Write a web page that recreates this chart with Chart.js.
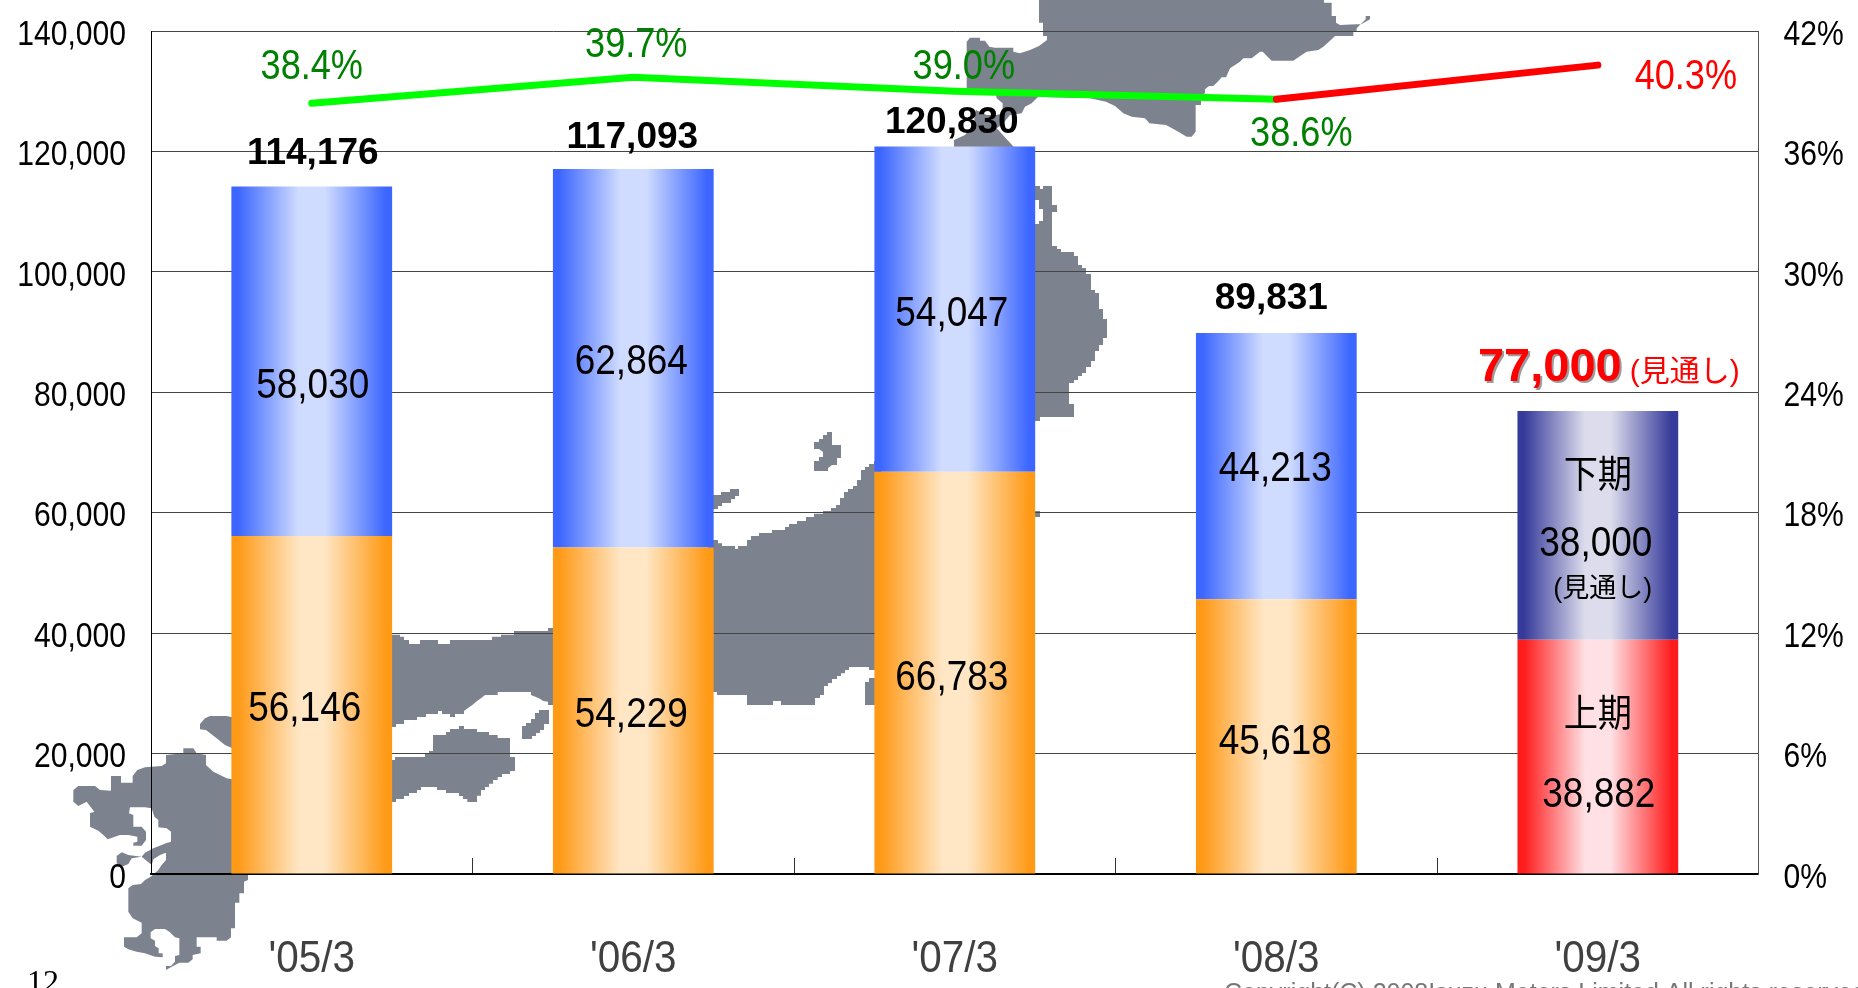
<!DOCTYPE html>
<html>
<head>
<meta charset="utf-8">
<title>Sales chart</title>
<script src="https://cdn.jsdelivr.net/npm/chart.js@4"></script>
<style>
  html, body { margin: 0; padding: 0; background: #fff; overflow: hidden; }
  canvas { display: block; }
</style>
</head>
<body>
<canvas id="salesChart" width="1858" height="988"></canvas>
<script>
const categories = ["'05/3", "'06/3", "'07/3", "'08/3", "'09/3"];
const firstHalf = [56146, 54229, 66783, 45618, 38882];
const secondHalf = [58030, 62864, 54047, 44213, 38000];
const totals = [114176, 117093, 120830, 89831, 77000];
const rates = [38.4, 39.7, 39.0, 38.6, 40.3];

const REGULAR = '"Liberation Sans", Arial, sans-serif';
const CJK = '"Liberation Sans", "Noto Sans CJK JP", sans-serif';

// hand nudges for the value labels, [dx, dy] from the anchor
const firstNudge = [[-7, 4], [-2, 4], [-3, 5], [-1, 5], [1, 38]];
const secondNudge = [[1, 25], [-2, 4], [-3, 5], [-1, 3], [-2, 19]];
const totalY = [154, 138, 123, 299, 368];
const totalDx = [1, -1, -3, -5, -48];
const rateNudge = [[0, -36], [3, -32], [9, -24], [25, 35], [88, 12]];

// no narrow Arial on this box, so text gets squeezed by font size
const squeezes = { 44: 0.92, 38: 0.9, 30: 1, 27: 1, 25: 1, 32: 1 };
const drops = { 35: 4 }; // axis numbers sit a little low in the original

const canvas = document.getElementById("salesChart");
const rawCtx = canvas.getContext("2d");
const plainFill = rawCtx.fillText.bind(rawCtx);
rawCtx.fillText = (str, x, y) => {
  const font = rawCtx.font;
  const size = parseInt(font.match(/(\d+)px/)[1], 10);
  const sx = font.includes("bold") ? 1 : squeezes[size] || 0.86;
  rawCtx.save();
  rawCtx.translate(x, y + (drops[size] || 0));
  rawCtx.scale(sx, 1);
  plainFill(str, 0, 0);
  rawCtx.restore();
};

// backdrop map of Japan: [originX, originY, x,y, x,y ...] at 3x
const mapOutlines = [
  // Kyushu
  [60, 700, 370,145, 400,145, 410,160, 438,165, 438,195, 460,215, 500,235, 530,240, 530,522, 564,522, 564,540, 552,545, 552,580, 538,580, 538,608, 525,608, 525,685, 513,685, 513,712, 500,722, 470,722, 470,712, 410,712, 410,740, 422,740, 422,760, 398,765, 398,778, 385,788, 358,788, 335,800, 318,810, 318,798, 333,798, 345,785, 345,768, 358,765, 358,715, 345,712, 330,697, 315,687, 285,687, 272,697, 272,715, 285,722, 285,738, 296,745, 296,760, 308,760, 308,772, 285,770, 255,760, 230,755, 205,748, 192,740, 192,712, 230,712, 245,700, 245,668, 218,655, 205,635, 205,565, 218,555, 243,552, 255,540, 272,530, 282,522, 295,510, 305,495, 318,480, 318,458, 300,465, 280,478, 275,495, 245,470, 215,475, 205,492, 185,500, 170,490, 170,468, 185,457, 205,465, 245,470, 255,458, 280,445, 318,430, 333,425, 333,395, 320,385, 295,382, 295,360, 283,350, 275,325, 255,322, 210,322, 207,340, 220,345, 220,380, 245,380, 258,395, 258,420, 245,437, 220,437, 220,428, 232,425, 232,410, 205,405, 180,405, 143,418, 130,405, 115,392, 90,380, 90,340, 103,335, 80,305, 55,318, 40,305, 40,270, 55,258, 105,258, 120,270, 153,272, 153,228, 183,228, 183,248, 218,248, 218,228, 232,210, 255,202, 305,198, 318,190, 318,165, 370,160],
  // western tip of Honshu
  [60, 700, 420,72, 435,55, 450,48, 500,48, 530,55, 530,150, 495,135, 470,115, 438,90, 420,88],
  // Honshu between the first two bars
  [385, 620, 3,44, 45,44, 45,50, 57,50, 57,60, 72,60, 72,72, 105,72, 105,60, 159,60, 159,72, 195,72, 195,60, 321,60, 321,50, 348,50, 348,44, 387,44, 387,33, 489,33, 489,24, 519,24, 519,255, 489,255, 489,245, 475,243, 462,235, 438,225, 438,216, 338,216, 338,225, 300,225, 288,235, 276,243, 262,255, 248,265, 237,273, 237,282, 210,282, 210,291, 195,291, 195,282, 171,282, 171,273, 159,273, 159,282, 123,282, 123,291, 96,291, 96,300, 57,300, 57,312, 33,312, 33,321, 3,321],
  // Shikoku
  [385, 620, 3,420, 30,420, 30,411, 120,411, 120,402, 132,402, 132,393, 144,393, 144,345, 183,345, 183,336, 195,336, 195,327, 222,327, 222,318, 237,318, 237,327, 276,327, 276,336, 312,336, 312,345, 338,345, 338,354, 375,354, 375,411, 390,411, 390,453, 375,453, 375,462, 351,462, 351,471, 338,471, 338,480, 324,480, 324,491, 312,491, 312,501, 300,501, 300,510, 288,510, 288,527, 276,527, 276,546, 247,546, 247,537, 234,537, 234,528, 222,528, 222,519, 183,519, 183,510, 156,510, 156,501, 108,501, 108,510, 96,510, 96,519, 72,519, 72,528, 57,528, 57,537, 33,537, 33,546, 3,546],
  // Awaji
  [385, 620, 411,318, 423,318, 423,309, 438,309, 438,297, 450,297, 450,279, 462,279, 462,270, 492,270, 492,312, 477,312, 477,330, 465,330, 465,339, 453,339, 453,348, 441,348, 441,357, 411,357],
  // Honshu between bars two and three
  [700, 410, 24,390, 54,390, 54,400, 66,400, 66,408, 105,408, 105,417, 114,417, 114,408, 141,408, 141,390, 153,390, 153,378, 177,378, 177,369, 216,369, 216,360, 255,360, 255,351, 267,351, 267,342, 291,342, 291,333, 318,333, 318,321, 342,321, 342,311, 369,311, 369,303, 393,303, 393,294, 408,294, 408,285, 420,285, 420,264, 432,264, 432,246, 444,246, 444,237, 459,237, 459,228, 471,228, 471,210, 483,210, 483,180, 495,180, 495,171, 507,171, 507,162, 522,162, 522,153, 543,153, 543,780, 507,780, 507,771, 447,771, 447,780, 435,780, 435,790, 423,790, 423,798, 411,798, 411,807, 396,807, 396,819, 384,819, 384,828, 372,828, 372,855, 360,855, 360,864, 345,864, 345,885, 243,885, 243,873, 219,873, 219,885, 141,885, 141,855, 51,855, 51,846, 24,846],
  // Izu
  [700, 410, 495,885, 543,885, 543,804, 507,804, 507,816, 495,816],
  // Sado
  [700, 410, 342,96, 357,96, 357,87, 369,87, 369,75, 381,75, 381,66, 396,66, 396,105, 423,105, 423,144, 411,144, 411,165, 396,165, 384,174, 384,183, 342,183, 342,153, 357,153, 357,141, 369,141, 369,126, 357,117, 342,117],
  // Noto
  [700, 410, 24,255, 63,255, 63,246, 90,246, 90,237, 117,237, 117,258, 105,258, 105,267, 93,267, 93,279, 66,279, 66,288, 54,288, 54,297, 24,297],
  // Tohoku right of the third bar
  [1020, 170, 27,48, 60,48, 60,57, 69,57, 69,48, 96,48, 96,105, 111,105, 111,126, 96,126, 96,228, 111,228, 111,237, 123,237, 123,246, 162,246, 162,258, 174,258, 174,285, 186,285, 186,294, 198,294, 198,312, 213,312, 213,360, 225,360, 225,369, 237,369, 237,417, 249,417, 249,447, 261,447, 261,504, 249,504, 249,525, 237,525, 237,543, 225,543, 225,573, 213,573, 213,591, 198,591, 198,609, 186,609, 186,618, 174,618, 174,630, 162,630, 162,639, 147,639, 147,702, 162,702, 162,741, 60,741, 60,753, 27,753, 27,162, 57,162, 57,153, 69,153, 69,117, 57,117, 57,90, 27,90],
  // northern Tohoku above the third bar
  [930, 0, 72,445, 72,420, 105,405, 130,375, 138,330, 170,345, 200,345, 218,340, 218,310, 200,295, 198,285, 330,285, 305,310, 285,320, 275,340, 240,345, 215,375, 200,385, 255,445],
  // Hokkaido
  [1020, 0, 57,0, 57,68, 69,68, 69,108, 81,108, 81,120, 57,138, 30,150, 0,160, -20,155, -20,143, -75,143, -92,140, -105,122, -120,122, -120,113, -150,113, -160,125, -160,272, 85,292, 210,295, 258,305, 285,318, 310,340, 335,350, 375,355, 388,370, 438,375, 475,395, 500,410, 515,410, 527,395, 527,315, 543,315, 543,285, 555,280, 555,268, 567,258, 580,258, 593,245, 605,232, 618,232, 630,205, 645,195, 660,185, 670,175, 695,175, 720,155, 728,155, 755,182, 820,182, 845,165, 860,155, 895,150, 910,140, 935,118, 945,108, 1000,108, 1000,95, 1010,95, 1010,85, 1025,70, 1037,58, 1037,48, 1050,48, 1050,58, 1025,72, 960,75, 948,68, 948,48, 935,48, 935,8, 912,8, 912,0],
  // stray pixel beside the third bar
  [1030, 508, 0,9, 30,9, 30,27, 0,27]
];

const mapBackdrop = {
  id: "mapBackdrop",
  beforeDraw(chart) {
    const ctx = chart.ctx;
    ctx.save();
    ctx.fillStyle = "#7c828e";
    mapOutlines.forEach((o) => {
      ctx.beginPath();
      for (let i = 2; i < o.length; i += 2) {
        ctx.lineTo(o[0] + o[i] / 3, o[1] + o[i + 1] / 3);
      }
      ctx.closePath();
      ctx.fill();
    });
    ctx.restore();
  },
};

function text(ctx, str, x, y, font, color) {
  ctx.font = font;
  ctx.fillStyle = color;
  ctx.fillText(str, x, y);
}

const valueLabels = {
  id: "valueLabels",
  afterDraw(chart) {
    const ctx = chart.ctx;
    const xs = chart.scales.x;
    const ys = chart.scales.y;
    const yr = chart.scales.y1;
    ctx.save();
    ctx.textAlign = "center";
    ctx.textBaseline = "middle";

    categories.forEach((c, i) => {
      const x = xs.getPixelForValue(i);
      const low = ys.getPixelForValue(firstHalf[i]);
      const high = ys.getPixelForValue(firstHalf[i] + secondHalf[i]);
      const zero = ys.getPixelForValue(0);
      const valueFont = '43px ' + REGULAR;

      text(ctx, firstHalf[i].toLocaleString("en-US"), x + firstNudge[i][0], (zero + low) / 2 + firstNudge[i][1], valueFont, "#000");
      text(ctx, secondHalf[i].toLocaleString("en-US"), x + secondNudge[i][0], (low + high) / 2 + secondNudge[i][1], valueFont, "#000");

      const forecast = i === categories.length - 1;
      if (forecast) {
        ctx.save();
        ctx.shadowColor = "rgba(90,90,90,0.6)";
        ctx.shadowOffsetX = 2;
        ctx.shadowOffsetY = 2;
        text(ctx, totals[i].toLocaleString("en-US"), x + totalDx[i], totalY[i], 'bold 47px ' + REGULAR, "#ff0000");
        ctx.restore();
      } else {
        text(ctx, totals[i].toLocaleString("en-US"), x + totalDx[i], totalY[i], 'bold 37px ' + REGULAR, "#000");
      }

      text(ctx, rates[i].toFixed(1) + "%", x + rateNudge[i][0], yr.getPixelForValue(rates[i]) + rateNudge[i][1], '42px ' + REGULAR, forecast ? "#ff0000" : "#008000");

      if (forecast) {
        text(ctx, "(見通し)", x + 87, totalY[i] + 5, '30px ' + CJK, "#ff0000");
        text(ctx, "(見通し)", x + 5, (low + high) / 2 + 64, '27px ' + CJK, "#000");
        text(ctx, "下期", x, (low + high) / 2 - 49, '38px ' + CJK, "#000");
        text(ctx, "上期", x, (zero + low) / 2 - 41, '38px ' + CJK, "#000");
      }
    });

    // page furniture
    ctx.textAlign = "left";
    ctx.textBaseline = "alphabetic";
    text(ctx, "12", 27, 992, '32px "Liberation Serif", serif', "#000");
    text(ctx, "Copyright(C) 2008Isuzu Motors Limited All rights reserved", 1224, 1001, '25px ' + REGULAR, "#777");
    ctx.restore();
  },
};

// horizontal gradient across one bar
function barGradient(ctx, edge, mid) {
  const chart = ctx.chart;
  if (!chart.chartArea) return edge;
  const x = chart.scales.x.getPixelForValue(ctx.dataIndex);
  const half = (chart.scales.x.width / categories.length) * 0.25;
  const g = chart.ctx.createLinearGradient(x - half, 0, x + half, 0);
  g.addColorStop(0, edge);
  g.addColorStop(0.04, edge);
  g.addColorStop(0.42, mid);
  g.addColorStop(0.58, mid);
  g.addColorStop(0.96, edge);
  g.addColorStop(1, edge);
  return g;
}

// axes keep a fixed box, the map sits outside it
function fixBox(s, w, h) {
  if (w) s.width = w;
  if (h) s.height = h;
  s.paddingTop = s.paddingBottom = s.paddingLeft = s.paddingRight = 0;
}

const lastIndex = categories.length - 1;

new Chart(canvas, {
  type: "bar",
  data: {
    labels: categories,
    datasets: [
      {
        type: "line",
        data: rates,
        yAxisID: "y1",
        order: 0,
        borderColor: "#00ff00",
        borderWidth: 7,
        borderCapStyle: "round",
        borderJoinStyle: "round",
        pointRadius: 0,
        tension: 0,
        segment: {
          borderColor: (s) => (s.p1DataIndex === lastIndex ? "#ff0000" : "#00ff00"),
        },
      },
      {
        data: firstHalf,
        yAxisID: "y",
        order: 1,
        barPercentage: 0.5,
        categoryPercentage: 1,
        backgroundColor: (c) => (c.dataIndex === lastIndex ? barGradient(c, "#ff1c1c", "#ffe0e4") : barGradient(c, "#ff9a17", "#ffe6c4")),
      },
      {
        data: secondHalf,
        yAxisID: "y",
        order: 1,
        barPercentage: 0.5,
        categoryPercentage: 1,
        backgroundColor: (c) => (c.dataIndex === lastIndex ? barGradient(c, "#363a9a", "#dcdcec") : barGradient(c, "#3c66ff", "#d0dcff")),
      },
    ],
  },
  options: {
    responsive: false,
    animation: false,
    layout: { padding: { top: 31, left: 0, right: 0, bottom: 0 } },
    plugins: { legend: { display: false }, tooltip: { enabled: false } },
    scales: {
      x: {
        stacked: true,
        afterFit: (s) => fixBox(s, 0, 114),
        border: { color: "#000", width: 2 },
        grid: { drawOnChartArea: false, color: "#333", tickLength: -16 },
        ticks: { padding: 75, color: "#404040", font: { family: REGULAR, size: 44 } },
      },
      y: {
        stacked: true,
        min: 0,
        max: 140000,
        afterFit: (s) => fixBox(s, 151, 0),
        border: { color: "#000", width: 1 },
        grid: { color: "#444", drawTicks: false },
        ticks: {
          stepSize: 20000,
          padding: 25,
          color: "#000",
          font: { family: REGULAR, size: 35 },
          callback: (v) => v.toLocaleString("en-US"),
        },
      },
      y1: {
        position: "right",
        min: 0,
        max: 42,
        afterFit: (s) => fixBox(s, 99.4, 0),
        border: { color: "#555", width: 1 },
        grid: { display: false, drawTicks: false },
        ticks: {
          stepSize: 6,
          padding: 25,
          color: "#000",
          font: { family: REGULAR, size: 35 },
          callback: (v) => v + "%",
        },
      },
    },
  },
  plugins: [mapBackdrop, valueLabels],
});
</script>
</body>
</html>
